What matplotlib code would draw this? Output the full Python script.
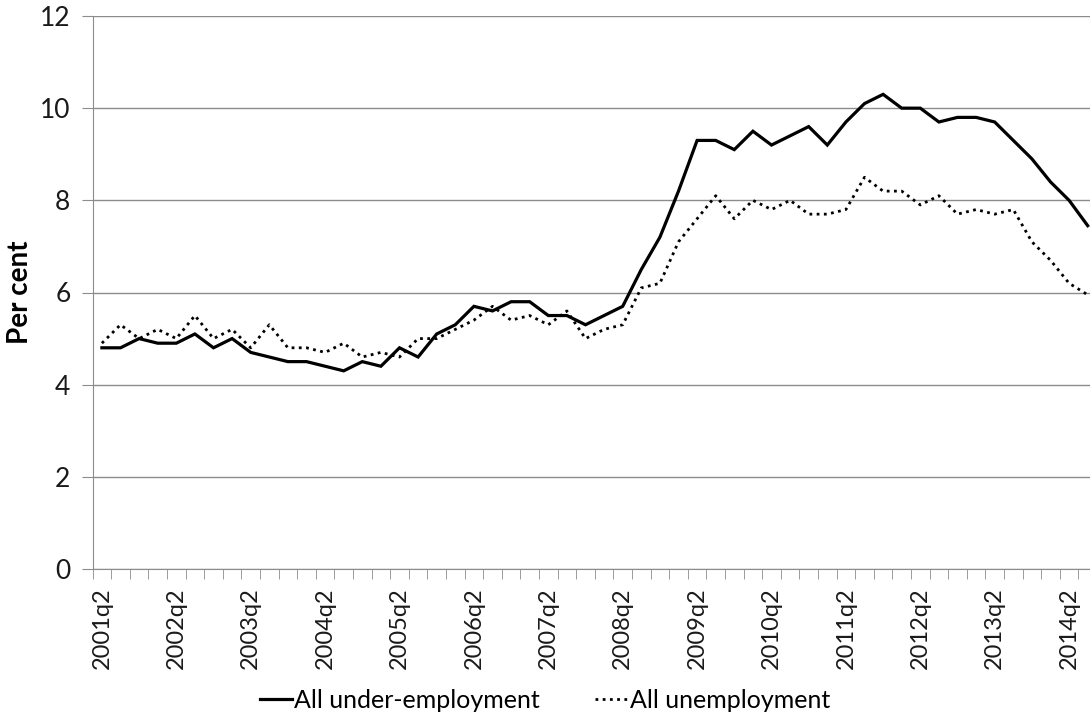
import matplotlib
matplotlib.use('Agg')
import matplotlib.pyplot as plt

quarters = ['%dq%d' % (2001 + (q + 1) // 4, (q + 1) % 4 + 1) for q in range(54)]

under_emp = [4.8, 4.8, 5.0, 4.9, 4.9, 5.1, 4.8, 5.0, 4.7, 4.6, 4.5, 4.5, 4.4, 4.3,
             4.5, 4.4, 4.8, 4.6, 5.1, 5.3, 5.7, 5.6, 5.8, 5.8, 5.5,
             5.5, 5.3, 5.5, 5.7, 6.5, 7.2, 8.2, 9.3, 9.3, 9.1, 9.5, 9.2, 9.4, 9.6,
             9.2, 9.7, 10.1, 10.3, 10.0, 10.0, 9.7, 9.8, 9.8, 9.7, 9.3, 8.9, 8.4, 8.0, 7.45]

unemp = [4.9, 5.3, 5.0, 5.2, 5.0, 5.5, 5.0, 5.2, 4.8, 5.3, 4.8, 4.8, 4.7, 4.9,
         4.6, 4.7, 4.6, 5.0, 5.0, 5.2, 5.4, 5.7, 5.4, 5.5, 5.3,
         5.6, 5.0, 5.2, 5.3, 6.1, 6.2, 7.1, 7.6, 8.1, 7.6, 8.0, 7.8, 8.0, 7.7,
         7.7, 7.8, 8.5, 8.2, 8.2, 7.9, 8.1, 7.7, 7.8, 7.7, 7.8, 7.1, 6.7, 6.2, 5.95]

plt.rcParams['font.family'] = ['Lato', 'DejaVu Sans']

fig = plt.figure(figsize=(10.9, 7.19), dpi=100)
# axes runs a bit past the right edge, like the cropped original
ax = fig.add_axes([92.6 / 1090, 1 - 569 / 719, (1097 - 92.6) / 1090, (569 - 16) / 719])

x = list(range(len(quarters)))
ax.plot(x, under_emp, color='black', lw=2.3, solid_joinstyle='miter',
        label='All under-employment')
ax.plot(x, unemp, color='black', lw=2.0, linestyle=(0, (1, 1.6)),
        label='All unemployment')

ax.set_ylim(0, 12)
ax.set_yticks(range(0, 13, 2))
ax.set_xlim(-0.5, len(quarters) - 0.5)
ax.yaxis.grid(True, color='#8c8c8c', lw=1)
ax.set_axisbelow(True)

ax.set_xticks([i for i in x if i % 4 == 0])
ax.set_xticklabels([quarters[i] for i in x if i % 4 == 0], rotation=90, fontsize=17)
ax.set_xticks([i - 0.5 for i in range(len(quarters) + 1)], minor=True)
ax.tick_params(axis='x', which='major', length=0, pad=13, colors='#1a1a1a')
ax.tick_params(axis='x', which='minor', length=7, color='#8c8c8c', direction='out')
ax.tick_params(axis='y', length=8, color='#8c8c8c', labelsize=19, pad=8,
               labelcolor='#1a1a1a')

for s in ['top', 'right']:
    ax.spines[s].set_visible(False)
ax.spines['left'].set_color('#8c8c8c')
ax.spines['bottom'].set_color('#8c8c8c')

ax.set_ylabel('Per cent', fontsize=20, fontweight='bold', ha='center', va='center')
ax.yaxis.set_label_coords((20 - 92.6) / 1004.4, 0.5)

fig.legend(loc='center', bbox_to_anchor=(0.5, 1 - 700 / 719), ncol=2, frameon=False,
           fontsize=18, handlelength=1.3, handletextpad=0.1, columnspacing=2.2)

fig.savefig('out.png', dpi=100)
